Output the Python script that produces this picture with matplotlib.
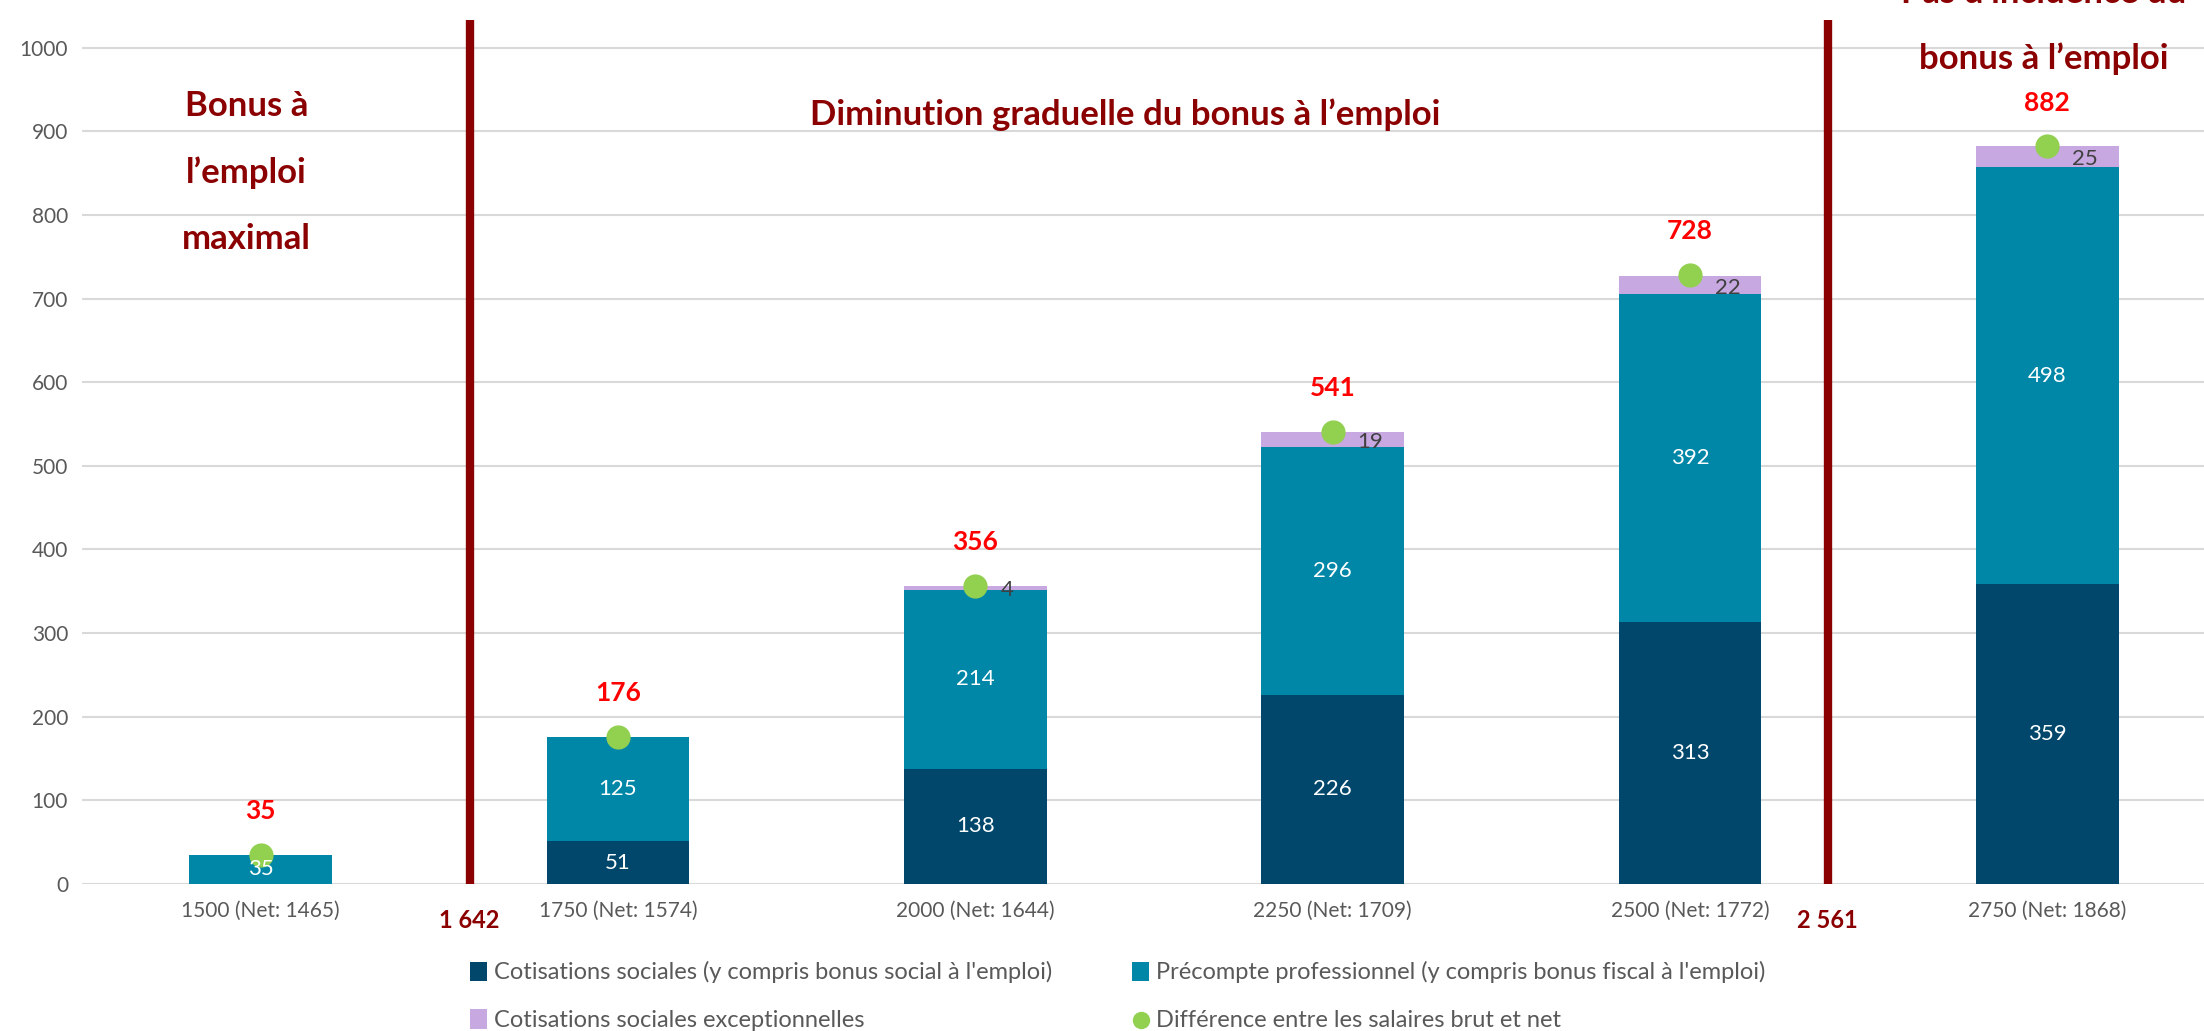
import numpy as np
import matplotlib.pyplot as plt

plt.rcParams["font.family"] = ["Lato", "DejaVu Sans"]

# data
categories = ["1500 (Net: 1465)", "1750 (Net: 1574)", "2000 (Net: 1644)",
              "2250 (Net: 1709)", "2500 (Net: 1772)", "2750 (Net: 1868)"]
cotisations = [0, 51, 138, 226, 313, 359]
precompte = [35, 125, 214, 296, 392, 498]
exceptionnelles = [0, 0, 4, 19, 22, 25]
difference = [35, 176, 356, 541, 728, 882]
seuils = ["1 642", "2 561"]
seuil_pos = [0.585, 4.385]

navy = "#00476B"
teal = "#0087A7"
lilac = "#C8A8E0"
green = "#92D050"
darkred = "#8B0000"
grey = "#595959"

fig = plt.figure(figsize=(22.04, 10.31), dpi=100)
ax = fig.add_axes([0.0372, 0.1426, 0.9728, 0.8574])

x = np.arange(len(categories))
w = 0.4
cot = np.array(cotisations)
pre = np.array(precompte)
exc = np.array(exceptionnelles)

b1 = ax.bar(x, cot, w, color=navy, label="Cotisations sociales (y compris bonus social à l'emploi)", zorder=3)
b2 = ax.bar(x, pre, w, bottom=cot, color=teal, label="Précompte professionnel (y compris bonus fiscal à l'emploi)", zorder=3)
b3 = ax.bar(x, exc, w, bottom=cot + pre, color=lilac, label="Cotisations sociales exceptionnelles", zorder=3)
dots = ax.scatter(x, difference, s=270, color=green, zorder=5, label="Différence entre les salaires brut et net")

for i in range(len(x)):
    if cot[i] > 0:
        ax.text(x[i], cot[i] / 2, str(cot[i]), ha="center", va="center", color="white", fontsize=16, zorder=6)
    if pre[i] > 0:
        ax.text(x[i], cot[i] + pre[i] / 2, str(pre[i]), ha="center", va="center", color="white", fontsize=16, zorder=6)
    if exc[i] > 0:
        ax.text(x[i] + 0.07, cot[i] + pre[i] + exc[i] / 2 - 3, str(exc[i]), ha="left", va="center",
                color="#404040", fontsize=16, zorder=6)
    ax.text(x[i], difference[i] + 38, str(difference[i]), ha="center", va="bottom", color="#FF0000",
            fontsize=19, fontweight="bold")

# threshold lines
for pos, lab in zip(seuil_pos, seuils):
    ax.plot([pos, pos], [0, 1033], color=darkred, lw=6, zorder=4, clip_on=False, solid_capstyle="butt")
    ax.text(pos, -44, lab, ha="center", va="center", color=darkred, fontsize=17, fontweight="bold")

big = dict(ha="center", va="center", color=darkred, fontsize=25, fontweight="bold")
ax.text(-0.04, 930, "Bonus à", **big)
ax.text(-0.04, 850, "l’emploi", **big)
ax.text(-0.04, 771, "maximal", **big)
ax.text(2.42, 920, "Diminution graduelle du bonus à l’emploi", **big)
ax.text(4.99, 1065, "Pas d’incidence du", clip_on=False, **big)
ax.text(4.99, 987, "bonus à l’emploi", **big)

ax.set_xlim(-0.5, 5.5)
ax.set_ylim(0, 1057)
ax.set_yticks(range(0, 1001, 100))
ax.set_xticks(x)
ax.set_xticklabels(categories)
ax.tick_params(axis="both", length=0, colors=grey, labelsize=15)
ax.tick_params(axis="x", pad=12)
ax.tick_params(axis="y", pad=10)
ax.grid(axis="y", color="#D9D9D9", lw=1.5, zorder=0)
for s in ax.spines.values():
    s.set_visible(False)
ax.axhline(0, color="#D9D9D9", lw=2, zorder=2)

# legend is filled column by column
handles = [b1, b3, b2, dots]
leg = fig.legend(handles=handles, loc="upper left", bbox_to_anchor=(0.208, 0.079), ncol=2,
                 frameon=False, fontsize=17, labelcolor=grey, handlelength=0.7, handleheight=0.9,
                 handletextpad=0.3, columnspacing=3.4, labelspacing=1.1, borderpad=0,
                 markerscale=0.7)

fig.savefig("out.png", dpi=100)
